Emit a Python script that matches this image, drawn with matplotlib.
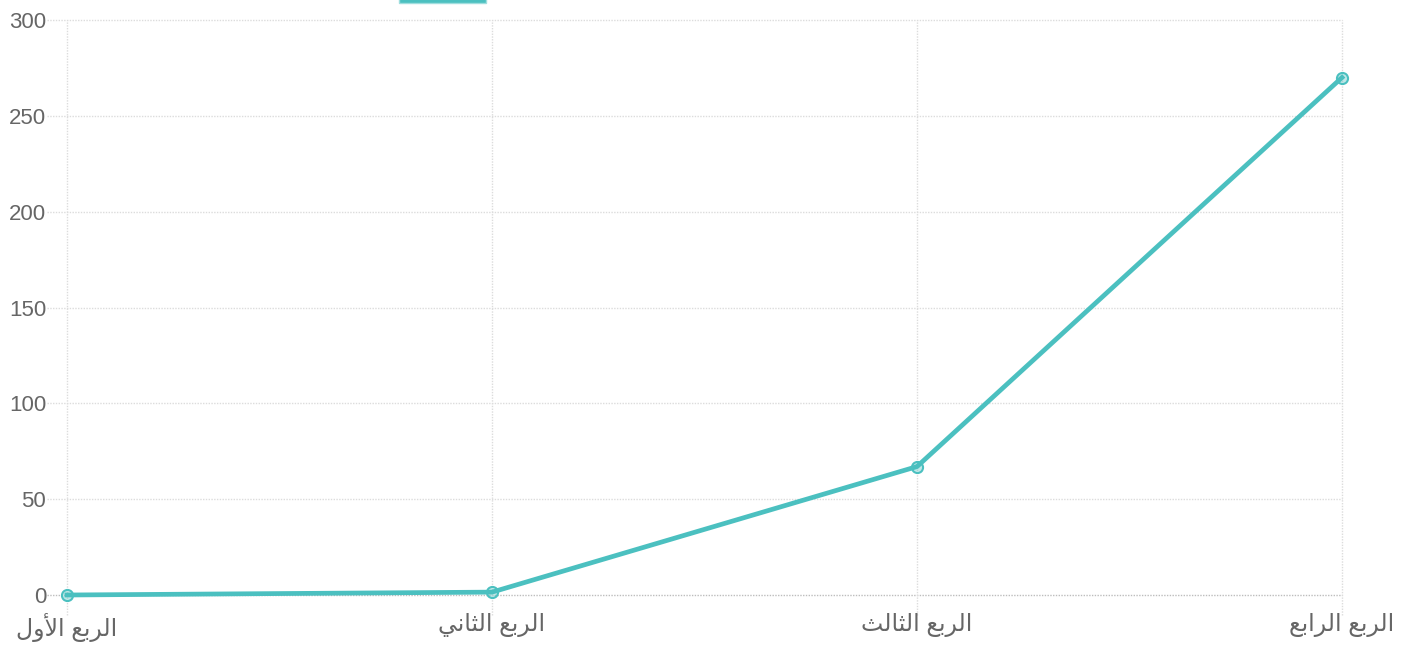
import matplotlib
matplotlib.use('Agg')
import matplotlib.pyplot as plt
from matplotlib.patches import Rectangle

# data
quarters = ['الربع الأول', 'الربع الثاني', 'الربع الثالث', 'الربع الرابع']
values = [0, 1.5, 67, 270]
y_ticks = [0, 50, 100, 150, 200, 250, 300]

TEAL = '#4bc0c0'
GRID = '#dcdcdc'
TEXT = '#666666'

# minimal arabic shaping (matplotlib has no bidi / joining support)
FORMS = {
    'ا': ('\ufe8d', '\ufe8e', None, None),
    'أ': ('\ufe83', '\ufe84', None, None),
    'ر': ('\ufead', '\ufeae', None, None),
    'و': ('\ufeed', '\ufeee', None, None),
    'ل': ('\ufedd', '\ufede', '\ufedf', '\ufee0'),
    'ب': ('\ufe8f', '\ufe90', '\ufe91', '\ufe92'),
    'ع': ('\ufec9', '\ufeca', '\ufecb', '\ufecc'),
    'ث': ('\ufe99', '\ufe9a', '\ufe9b', '\ufe9c'),
    'ن': ('\ufee5', '\ufee6', '\ufee7', '\ufee8'),
    'ي': ('\ufef1', '\ufef2', '\ufef3', '\ufef4'),
}
LAM_ALEF = {'ا': ('\ufefb', '\ufefc'), 'أ': ('\ufef7', '\ufef8')}


def shape_word(word):
    units = []
    i = 0
    while i < len(word):
        if word[i] == 'ل' and i + 1 < len(word) and word[i + 1] in LAM_ALEF:
            units.append(('la', word[i + 1]))
            i += 2
        else:
            units.append(('c', word[i]))
            i += 1

    def joins_left(u):
        return u[0] == 'c' and FORMS[u[1]][2] is not None

    out = []
    for k, u in enumerate(units):
        prev_join = k > 0 and joins_left(units[k - 1])
        next_join = k < len(units) - 1 and joins_left(u)
        if u[0] == 'la':
            out.append(LAM_ALEF[u[1]][1] if prev_join else LAM_ALEF[u[1]][0])
            continue
        iso, fin, ini, med = FORMS[u[1]]
        if prev_join and next_join:
            out.append(med)
        elif prev_join:
            out.append(fin)
        elif next_join:
            out.append(ini)
        else:
            out.append(iso)
    return ''.join(reversed(out))


def shape(text):
    return ' '.join(shape_word(w) for w in reversed(text.split(' ')))


plt.rcParams['font.family'] = ['Liberation Sans', 'DejaVu Sans']

fig = plt.figure(figsize=(14.09, 6.49), dpi=100)
ax = fig.add_axes([67 / 1409, 1 - 595 / 649, (1342 - 67) / 1409, 575 / 649])

x = list(range(len(quarters)))
ax.plot(x, values, color=TEAL, lw=3.4, marker='o', markersize=8,
        markerfacecolor=(0.29, 0.75, 0.75, 0.35), markeredgecolor=TEAL,
        markeredgewidth=1.5, zorder=3, clip_on=False)

ax.set_xlim(0, len(quarters) - 1)
ax.set_ylim(0, 300)
ax.set_xticks(x, [shape(q) for q in quarters])
ax.set_yticks(y_ticks, [str(v) for v in y_ticks])
ax.tick_params(axis='both', length=0, colors=TEXT)
ax.tick_params(axis='y', pad=15, labelsize=16)
ax.tick_params(axis='x', pad=13, labelsize=17)
for s in ax.spines.values():
    s.set_visible(False)

# dotted grid, extended past the axes like tick marks
ext_x = 20 / 1275
ext_y = 20 / 575
for v in y_ticks:
    ax.plot([-ext_x, 1], [v, v], transform=ax.get_yaxis_transform(),
            ls=(0, (1, 1)), lw=1, color=GRID if v else '#bdbdbd',
            clip_on=False, zorder=1)
for xi in x:
    ax.plot([xi, xi], [-ext_y, 1], transform=ax.get_xaxis_transform(),
            ls=(0, (1, 1)), lw=1, color=GRID, clip_on=False, zorder=1)

# legend box, mostly cut off at the top
fig.patches.append(Rectangle((399 / 1409, 1 - 3 / 649), 87 / 1409, 0.05,
                             transform=fig.transFigure, facecolor=TEAL,
                             edgecolor='#9fdede', lw=1))

fig.savefig('out.png', dpi=100)
